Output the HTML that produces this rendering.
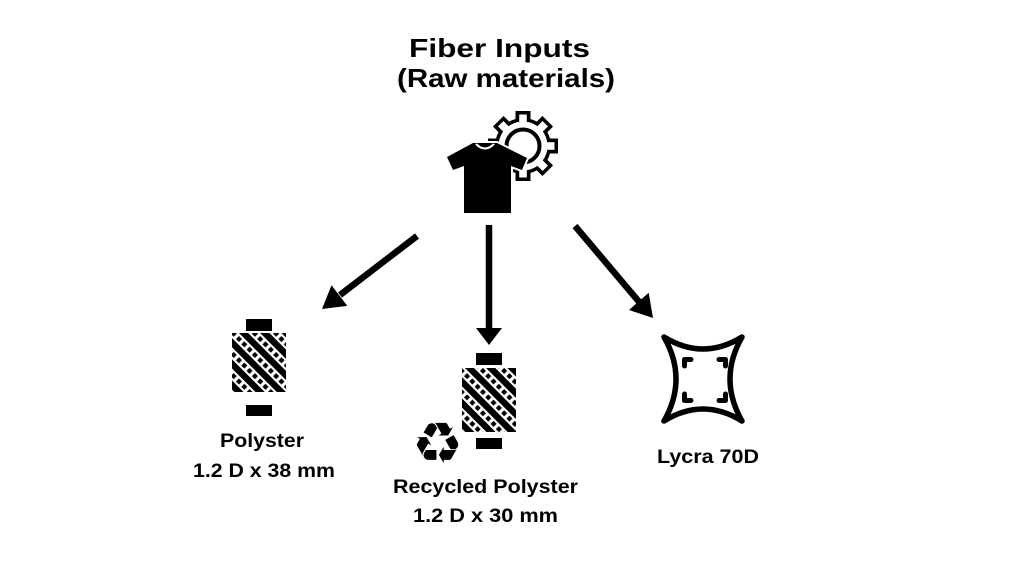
<!DOCTYPE html>
<html><head><meta charset="utf-8"><style>
html,body{margin:0;padding:0;background:#fff;}
svg{display:block;}
text{font-family:"Liberation Sans",sans-serif;font-weight:bold;fill:#000;}
</style></head><body>
<svg width="1024" height="576" viewBox="0 0 1024 576" xmlns="http://www.w3.org/2000/svg">
<defs>
<pattern id="yarn" patternUnits="userSpaceOnUse" width="7.5" height="15" patternTransform="rotate(45)">
<rect x="0" y="0" width="7.5" height="6.5" fill="#000"/>
<rect x="1.6" y="8.6" width="4.3" height="4.3" fill="#000"/>
</pattern>
</defs>
<rect width="1024" height="576" fill="#fff"/>

<!-- Title -->
<text x="409" y="57" font-size="26" textLength="181" lengthAdjust="spacingAndGlyphs">Fiber Inputs</text>
<text x="397" y="87" font-size="26" textLength="218" lengthAdjust="spacingAndGlyphs">(Raw materials)</text>

<!-- Gear -->
<g transform="translate(523,146)">
  <g fill="#000">
    <circle r="28"/>
    <rect x="-7.5" y="-35" width="15" height="12"/>
    <rect x="-7.5" y="-35" width="15" height="12" transform="rotate(45)"/>
    <rect x="-7.5" y="-35" width="15" height="12" transform="rotate(90)"/>
    <rect x="-7.5" y="-35" width="15" height="12" transform="rotate(135)"/>
    <rect x="-7.5" y="-35" width="15" height="12" transform="rotate(180)"/>
    <rect x="-7.5" y="-35" width="15" height="12" transform="rotate(225)"/>
    <rect x="-7.5" y="-35" width="15" height="12" transform="rotate(270)"/>
    <rect x="-7.5" y="-35" width="15" height="12" transform="rotate(315)"/>
  </g>
  <g fill="#fff">
    <circle r="24.5"/>
    <rect x="-3.8" y="-31.5" width="7.6" height="10"/>
    <rect x="-3.8" y="-31.5" width="7.6" height="10" transform="rotate(45)"/>
    <rect x="-3.8" y="-31.5" width="7.6" height="10" transform="rotate(90)"/>
    <rect x="-3.8" y="-31.5" width="7.6" height="10" transform="rotate(135)"/>
    <rect x="-3.8" y="-31.5" width="7.6" height="10" transform="rotate(180)"/>
    <rect x="-3.8" y="-31.5" width="7.6" height="10" transform="rotate(225)"/>
    <rect x="-3.8" y="-31.5" width="7.6" height="10" transform="rotate(270)"/>
    <rect x="-3.8" y="-31.5" width="7.6" height="10" transform="rotate(315)"/>
  </g>
  <circle r="16.5" fill="none" stroke="#000" stroke-width="4"/>
</g>

<!-- Shirt -->
<path d="M473,143 L447,157 L453,170 L464,166 L464,213 L511,213 L511,166 L522,170 L527,158 L497,143 Z" fill="#000" stroke="#fff" stroke-width="4" paint-order="stroke" stroke-linejoin="round"/>
<path d="M476,144 Q485,153 494,144" fill="none" stroke="#fff" stroke-width="2"/>

<!-- Arrows -->
<g stroke="#000" stroke-width="6.5" fill="none">
  <line x1="417" y1="236" x2="340" y2="295"/>
  <line x1="489" y1="225" x2="489" y2="330"/>
  <line x1="575" y1="226" x2="640" y2="303"/>
</g>
<g fill="#000">
  <polygon points="322,309 347.3,305.9 331.5,285.3"/>
  <polygon points="489,345 476,328 502,328"/>
  <polygon points="653,318 629,310 648.7,292.8"/>
</g>

<!-- Polyster spool -->
<rect x="246" y="319" width="26" height="12" fill="#000"/>
<rect x="232" y="333" width="54" height="59" fill="url(#yarn)"/>
<rect x="246" y="405" width="26" height="11" fill="#000"/>

<!-- Recycled spool -->
<rect x="476" y="353" width="26" height="12" fill="#000"/>
<rect x="462" y="368" width="54" height="64" fill="url(#yarn)"/>
<rect x="476" y="438" width="26" height="11" fill="#000"/>

<!-- Recycle symbol -->
<text x="437.5" y="463" font-size="57" text-anchor="middle" style="font-family:'DejaVu Sans',sans-serif;font-weight:normal">♻</text>

<!-- Lycra icon -->
<path d="M664,337 Q703,361 742,337 Q718,379 742,421 Q703,397 664,421 Q688,379 664,337 Z" fill="none" stroke="#000" stroke-width="5.5" stroke-linejoin="round"/>
<g fill="none" stroke="#000" stroke-width="5" stroke-linejoin="round" stroke-linecap="round">
  <path d="M684.5,366 L684.5,359.5 L691,359.5"/>
  <path d="M719,359.5 L725.5,359.5 L725.5,366"/>
  <path d="M684.5,394 L684.5,400.5 L691,400.5"/>
  <path d="M719,400.5 L725.5,400.5 L725.5,394"/>
</g>

<!-- Labels -->
<text x="220" y="447" font-size="19" textLength="84" lengthAdjust="spacingAndGlyphs">Polyster</text>
<text x="193" y="477" font-size="19" textLength="142" lengthAdjust="spacingAndGlyphs">1.2 D x 38 mm</text>
<text x="393" y="493" font-size="19" textLength="185" lengthAdjust="spacingAndGlyphs">Recycled Polyster</text>
<text x="413" y="522" font-size="19" textLength="145" lengthAdjust="spacingAndGlyphs">1.2 D x 30 mm</text>
<text x="657" y="463" font-size="19" textLength="102" lengthAdjust="spacingAndGlyphs">Lycra 70D</text>
</svg>
</body></html>
